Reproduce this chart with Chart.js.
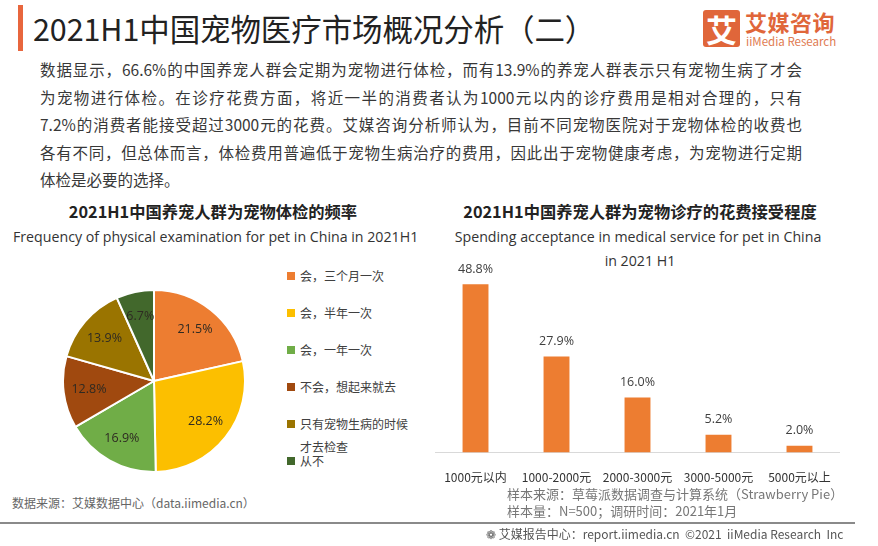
<!DOCTYPE html>
<html>
<head>
<meta charset="utf-8">
<script src="https://cdn.jsdelivr.net/npm/chart.js@4.4.0/dist/chart.umd.min.js"></script>
<style>
  html, body { margin: 0; padding: 0; background: #fff; }
  body { width: 878px; height: 546px; position: relative; overflow: hidden;
         font-family: "Noto Sans CJK SC", "Noto Sans", sans-serif; color: #333; }
  .abs { position: absolute; white-space: nowrap; }
  #titleBar { left: 18px; top: 5px; width: 5px; height: 46px; background: #e8663d; }
  #title { left: 33px; top: 10px; font-size: 30.5px; line-height: 36px; color: #222; letter-spacing: -0.1px; }
  #logoBox { left: 703px; top: 10px; width: 37px; height: 37px; background: #e0663a; border-radius: 3px;
             color: #fff; font-size: 31px; line-height: 37px; text-align: center; font-weight: bold; }
  #logoCn { left: 745px; top: 7px; font-size: 22px; line-height: 28px; color: #e0663a; font-weight: bold; letter-spacing: 0.5px; }
  #logoEn { left: 746px; top: 34px; font-size: 11.5px; line-height: 14px; color: #e07a50; }
  #para { left: 40px; top: 56px; width: 762px; font-size: 15.5px; line-height: 27.6px; color: #383838; }
  #para div { text-align: justify; text-align-last: justify; white-space: nowrap; }
  #para div.last { text-align-last: left; }
  .ctitle { font-size: 16.3px; font-weight: bold; color: #222; text-align: center; }
  .csub { font-family: "Open Sans", "Noto Sans", sans-serif; font-size: 14.2px; color: #333; text-align: center; }
  #pieWrap { position: absolute; left: 62px; top: 289px; width: 184px; height: 184px; }
  #barWrap { position: absolute; left: 427px; top: 255px; width: 421px; height: 248px; }
  #legend { position: absolute; left: 287px; top: 0; }
  .lg { position: absolute; left: 0; font-size: 12px; line-height: 23px; color: #404040; white-space: normal; width: 125px; }
  .lg span.sw { position: absolute; left: 0; top: 8px; width: 8px; height: 8px; }
  .lg span.tx { display: block; margin-left: 13px; width: 110px; }
  .foot { font-size: 12px; color: #666; line-height: 16px; }
  #sep { left: 0; top: 522px; width: 855px; height: 2px; background: #8a8a8a; }
</style>
</head>
<body>
<div class="abs" id="titleBar"></div>
<div class="abs" id="title">2021H1中国宠物医疗市场概况分析（二）</div>
<div class="abs" id="logoBox">艾</div>
<div class="abs" id="logoCn">艾媒咨询</div>
<div class="abs" id="logoEn">iiMedia Research</div>

<div class="abs" id="para">
  <div>数据显示，66.6%的中国养宠人群会定期为宠物进行体检，而有13.9%的养宠人群表示只有宠物生病了才会</div>
  <div>为宠物进行体检。在诊疗花费方面，将近一半的消费者认为1000元以内的诊疗费用是相对合理的，只有</div>
  <div>7.2%的消费者能接受超过3000元的花费。艾媒咨询分析师认为，目前不同宠物医院对于宠物体检的收费也</div>
  <div>各有不同，但总体而言，体检费用普遍低于宠物生病治疗的费用，因此出于宠物健康考虑，为宠物进行定期</div>
  <div class="last">体检是必要的选择。</div>
</div>

<div class="abs ctitle" style="left:13px; width:400px; top:200px; line-height:22px;">2021H1中国养宠人群为宠物体检的频率</div>
<div class="abs csub" style="left:13px; width:400px; top:227px; line-height:20px;">Frequency of physical examination for pet in China in 2021H1</div>

<div class="abs ctitle" style="left:440px; width:400px; top:200px; line-height:22px;">2021H1中国养宠人群为宠物诊疗的花费接受程度</div>
<div class="abs csub" style="left:438px; width:400px; top:227px; line-height:20px;">Spending acceptance in medical service for pet in China</div>
<div class="abs csub" style="left:440px; width:400px; top:251px; line-height:20px;">in 2021 H1</div>

<div id="pieWrap"><canvas id="pieChart"></canvas></div>
<div id="legend"></div>
<div id="barWrap"><canvas id="barChart"></canvas></div>

<div class="abs foot" style="left:12px; top:495px;">数据来源：艾媒数据中心（data.iimedia.cn）</div>
<div class="abs foot" style="left:507px; top:486px; color:#777; font-size:13px;">样本来源：草莓派数据调查与计算系统（Strawberry Pie）</div>
<div class="abs foot" style="left:507px; top:503px; color:#777; font-size:13px;">样本量：N=500；调研时间：2021年1月</div>
<div class="abs" id="sep"></div>
<div class="abs foot" style="left:486px; top:526px; color:#555;">&#10049; 艾媒报告中心：report.iimedia.cn&nbsp;&nbsp;©2021&nbsp;&nbsp;iiMedia Research&nbsp;&nbsp;Inc</div>

<script>
// pie: frequency of physical examination
const pieLabels = ['会，三个月一次', '会，半年一次', '会，一年一次', '不会，想起来就去', '只有宠物生病的时候才去检查', '从不'];
const pieValues = [21.5, 28.2, 16.9, 12.8, 13.9, 6.7];
const pieColors = ['#ed7d31', '#fcbf00', '#70ad47', '#a0490f', '#9a7400', '#42682c'];

// bar: spending acceptance
const barLabels = ['1000元以内', '1000-2000元', '2000-3000元', '3000-5000元', '5000元以上'];
const barValues = [48.8, 27.9, 16.0, 5.2, 2.0];
const barColor = '#ed7d31';

const fmtPct = v => v.toFixed(1) + '%';

// Legend for the pie, built from the label list
function buildLegend() {
    const box = document.getElementById('legend');
    pieLabels.forEach((lab, i) => {
        const item = document.createElement('div');
        item.className = 'lg';
        item.style.top = (264 + i * 37) + 'px';
        const sw = document.createElement('span');
        sw.className = 'sw';
        sw.style.background = pieColors[i];
        const tx = document.createElement('span');
        tx.className = 'tx';
        tx.textContent = lab;
        item.appendChild(sw);
        item.appendChild(tx);
        box.appendChild(item);
    });
}

const pieLabelPlugin = {
    id: 'pieLabels',
    afterDatasetsDraw(chart) {
        const ctx = chart.ctx;
        const meta = chart.getDatasetMeta(0);
        ctx.save();
        ctx.font = '12.5px "Open Sans", sans-serif';
        ctx.fillStyle = '#2e2a22';
        ctx.textAlign = 'center';
        ctx.textBaseline = 'middle';
        meta.data.forEach((arc, i) => {
            const mid = (arc.startAngle + arc.endAngle) / 2;
            const r = arc.outerRadius * 0.72;
            ctx.fillText(fmtPct(pieValues[i]), arc.x + Math.cos(mid) * r, arc.y + Math.sin(mid) * r);
        });
        ctx.restore();
    }
};

const barLabelPlugin = {
    id: 'barLabels',
    afterDatasetsDraw(chart) {
        const ctx = chart.ctx;
        const meta = chart.getDatasetMeta(0);
        ctx.save();
        ctx.font = '12.5px "Open Sans", sans-serif';
        ctx.fillStyle = '#404040';
        ctx.textAlign = 'center';
        ctx.textBaseline = 'middle';
        meta.data.forEach((bar, i) => {
            ctx.fillText(fmtPct(barValues[i]), bar.x, bar.y - 15);
        });
        ctx.restore();
    }
};

function initCharts() {
    buildLegend();

    new Chart(document.getElementById('pieChart'), {
        type: 'pie',
        data: {
            labels: pieLabels,
            datasets: [{
                data: pieValues,
                backgroundColor: pieColors,
                borderColor: '#ffffff',
                borderWidth: 2,
                hoverOffset: 0
            }]
        },
        options: {
            responsive: true,
            maintainAspectRatio: false,
            animation: false,
            events: [],
            layout: { padding: 0 },
            plugins: { legend: { display: false }, tooltip: { enabled: false } }
        },
        plugins: [pieLabelPlugin]
    });

    new Chart(document.getElementById('barChart'), {
        type: 'bar',
        data: {
            labels: barLabels,
            datasets: [{
                data: barValues,
                backgroundColor: barColor,
                barPercentage: 0.8,
                categoryPercentage: 0.4
            }]
        },
        options: {
            responsive: true,
            maintainAspectRatio: false,
            animation: false,
            events: [],
            layout: { padding: 0 },
            plugins: { legend: { display: false }, tooltip: { enabled: false } },
            scales: {
                x: {
                    grid: { display: false, drawTicks: false, tickLength: 0 },
                    border: { display: true, color: '#d9d9d9', width: 1 },
                    ticks: {
                        padding: 18,
                        color: '#333',
                        font: { size: 12, family: '"Noto Sans CJK SC", sans-serif' },
                        maxRotation: 0,
                        autoSkip: false
                    }
                },
                y: {
                    display: false,
                    min: 0,
                    max: 57.3
                }
            }
        },
        plugins: [barLabelPlugin]
    });
}

document.addEventListener('DOMContentLoaded', initCharts);
</script>
</body>
</html>
